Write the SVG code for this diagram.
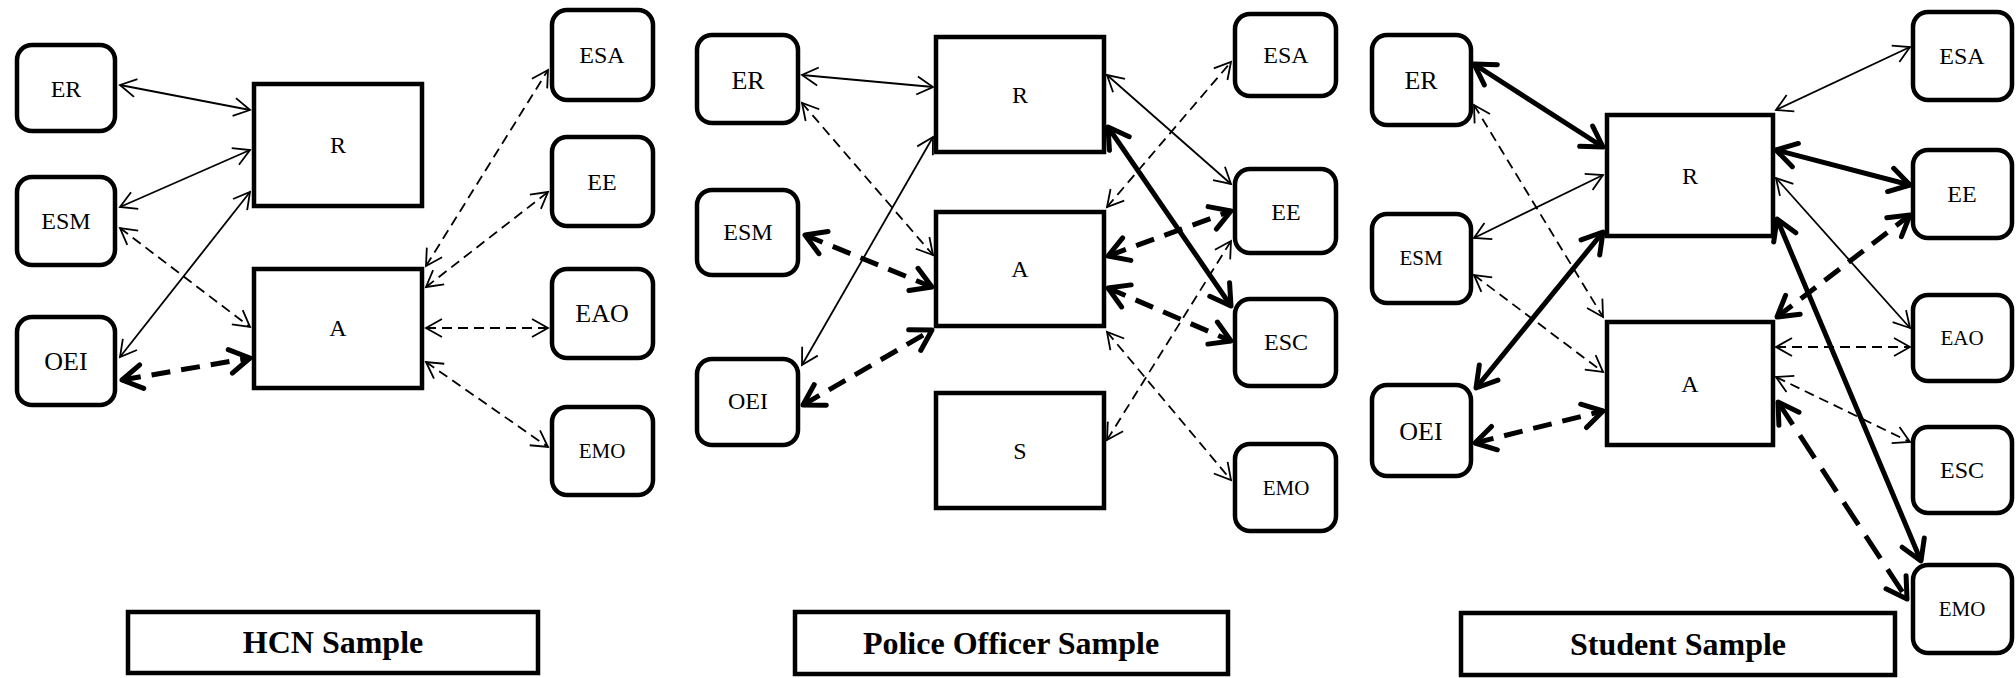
<svg xmlns="http://www.w3.org/2000/svg" width="2016" height="678" viewBox="0 0 2016 678">
<defs>
<style>
.bg{fill:#fff}
.n rect{fill:#fff;stroke:#000;stroke-width:4.5}
.n text{font-size:24px;text-anchor:middle;fill:#000}
.n text.s{font-size:21px}
.n text.l{font-size:26px}
.cap rect{fill:#fff;stroke:#000;stroke-width:4.5}
.cap text{font-size:32px;font-weight:bold;text-anchor:middle;fill:#000}
.c line{fill:none;stroke:#000}
.t{stroke-width:1.8;marker-start:url(#at);marker-end:url(#at)}
.k{stroke-width:5;marker-start:url(#ak);marker-end:url(#ak)}
.d{stroke-dasharray:10 6}
.kd{stroke-dasharray:19 11}
.kl{stroke-dasharray:27 13}
</style>
<marker id="at" viewBox="0 0 20 22" refX="17" refY="11" markerWidth="20" markerHeight="22" markerUnits="userSpaceOnUse" orient="auto-start-reverse">
<path d="M1,2 L17,11 L1,20" fill="none" stroke="#000" stroke-width="1.8"/>
</marker>
<marker id="ak" viewBox="0 0 28 30" refX="23" refY="15" markerWidth="28" markerHeight="30" markerUnits="userSpaceOnUse" orient="auto-start-reverse">
<path d="M3,3 L23,15 L3,27" fill="none" stroke="#000" stroke-width="5" stroke-linecap="round" stroke-linejoin="round"/>
</marker>
</defs>
<rect class="bg" x="0" y="0" width="2016" height="678"/>

<g id="connectors" class="c">
<!-- HCN -->
<line class="t" x1="120" y1="85" x2="250" y2="110"/>
<line class="t" x1="120" y1="207" x2="250" y2="150"/>
<line class="t" x1="120" y1="357" x2="250" y2="192"/>
<line class="t d" x1="120" y1="228" x2="250" y2="327"/>
<line class="k kd" x1="122" y1="380" x2="250" y2="358"/>
<line class="t d" x1="426" y1="266" x2="548" y2="70"/>
<line class="t d" x1="426" y1="287" x2="548" y2="192"/>
<line class="t d" x1="426" y1="328" x2="548" y2="328"/>
<line class="t d" x1="426" y1="362" x2="548" y2="447"/>
<!-- Police -->
<line class="t" x1="802" y1="75" x2="933" y2="87"/>
<line class="t d" x1="802" y1="103" x2="933" y2="255"/>
<line class="t" x1="802" y1="365" x2="933" y2="137"/>
<line class="k kd" x1="805" y1="235" x2="932" y2="287"/>
<line class="k kd" x1="803" y1="405" x2="932" y2="330"/>
<line class="t" x1="1107" y1="75" x2="1231" y2="184"/>
<line class="k" x1="1108" y1="127" x2="1231" y2="306"/>
<line class="t d" x1="1107" y1="207" x2="1231" y2="62"/>
<line class="k kd" x1="1108" y1="256" x2="1231" y2="211"/>
<line class="k kd" x1="1108" y1="288" x2="1231" y2="341"/>
<line class="t d" x1="1107" y1="332" x2="1231" y2="480"/>
<line class="t d" x1="1107" y1="440" x2="1231" y2="241"/>
<!-- Student -->
<line class="k" x1="1474" y1="64" x2="1603" y2="147"/>
<line class="t d" x1="1474" y1="105" x2="1603" y2="317"/>
<line class="t" x1="1474" y1="238" x2="1603" y2="175"/>
<line class="t d" x1="1474" y1="275" x2="1603" y2="372"/>
<line class="k" x1="1476" y1="388" x2="1603" y2="232"/>
<line class="k kd" x1="1475" y1="443" x2="1603" y2="411"/>
<line class="t" x1="1776" y1="110" x2="1910" y2="47"/>
<line class="k" x1="1776" y1="150" x2="1910" y2="185"/>
<line class="t" x1="1776" y1="178" x2="1910" y2="328"/>
<line class="k kd" x1="1777" y1="317" x2="1910" y2="215"/>
<line class="t d" x1="1776" y1="347" x2="1910" y2="347"/>
<line class="t d" x1="1776" y1="377" x2="1910" y2="442"/>
<line class="k kl" x1="1778" y1="402" x2="1907" y2="599"/>
<line class="k" x1="1777" y1="219" x2="1921" y2="561"/>
</g>

<g font-family="Liberation Serif">
<!-- HCN nodes -->
<g id="hcn-ER" class="n"><rect x="17" y="45" width="98" height="86" rx="15"/><text x="66" y="97">ER</text></g>
<g id="hcn-ESM" class="n"><rect x="17" y="177" width="98" height="88" rx="15"/><text x="66" y="229">ESM</text></g>
<g id="hcn-OEI" class="n"><rect x="17" y="317" width="98" height="88" rx="15"/><text class="l" x="66" y="370">OEI</text></g>
<g id="hcn-R" class="n"><rect x="254" y="84" width="168" height="122"/><text x="338" y="153">R</text></g>
<g id="hcn-A" class="n"><rect x="254" y="269" width="168" height="119"/><text x="338" y="336">A</text></g>
<g id="hcn-ESA" class="n"><rect x="552" y="10" width="101" height="90" rx="15"/><text x="602" y="63">ESA</text></g>
<g id="hcn-EE" class="n"><rect x="552" y="137" width="101" height="89" rx="15"/><text x="602" y="190">EE</text></g>
<g id="hcn-EAO" class="n"><rect x="552" y="269" width="101" height="89" rx="15"/><text class="l" x="602" y="322">EAO</text></g>
<g id="hcn-EMO" class="n"><rect x="552" y="407" width="101" height="88" rx="15"/><text class="s" x="602" y="458">EMO</text></g>
<g id="hcn-label" class="cap"><rect x="128" y="612" width="410" height="61"/><text x="333" y="653">HCN Sample</text></g>

<!-- Police nodes -->
<g id="pol-ER" class="n"><rect x="697" y="35" width="101" height="88" rx="15"/><text class="l" x="748" y="89">ER</text></g>
<g id="pol-ESM" class="n"><rect x="697" y="190" width="101" height="85" rx="15"/><text x="748" y="240">ESM</text></g>
<g id="pol-OEI" class="n"><rect x="697" y="359" width="101" height="86" rx="15"/><text x="748" y="409">OEI</text></g>
<g id="pol-R" class="n"><rect x="936" y="37" width="168" height="115"/><text x="1020" y="103">R</text></g>
<g id="pol-A" class="n"><rect x="936" y="212" width="168" height="114"/><text x="1020" y="277">A</text></g>
<g id="pol-S" class="n"><rect x="936" y="393" width="168" height="115"/><text x="1020" y="459">S</text></g>
<g id="pol-ESA" class="n"><rect x="1235" y="14" width="101" height="82" rx="15"/><text x="1286" y="63">ESA</text></g>
<g id="pol-EE" class="n"><rect x="1235" y="169" width="101" height="84" rx="15"/><text x="1286" y="220">EE</text></g>
<g id="pol-ESC" class="n"><rect x="1235" y="299" width="101" height="87" rx="15"/><text x="1286" y="350">ESC</text></g>
<g id="pol-EMO" class="n"><rect x="1235" y="444" width="101" height="87" rx="15"/><text class="s" x="1286" y="495">EMO</text></g>
<g id="pol-label" class="cap"><rect x="795" y="612" width="433" height="62"/><text x="1011" y="654">Police Officer Sample</text></g>

<!-- Student nodes -->
<g id="stu-ER" class="n"><rect x="1372" y="35" width="99" height="90" rx="15"/><text class="l" x="1421" y="89">ER</text></g>
<g id="stu-ESM" class="n"><rect x="1372" y="214" width="99" height="89" rx="15"/><text class="s" x="1421" y="265">ESM</text></g>
<g id="stu-OEI" class="n"><rect x="1372" y="385" width="99" height="91" rx="15"/><text class="l" x="1421" y="440">OEI</text></g>
<g id="stu-R" class="n"><rect x="1607" y="115" width="166" height="121"/><text x="1690" y="184">R</text></g>
<g id="stu-A" class="n"><rect x="1607" y="322" width="166" height="123"/><text x="1690" y="392">A</text></g>
<g id="stu-ESA" class="n"><rect x="1913" y="12" width="99" height="88" rx="15"/><text x="1962" y="64">ESA</text></g>
<g id="stu-EE" class="n"><rect x="1913" y="150" width="99" height="88" rx="15"/><text x="1962" y="202">EE</text></g>
<g id="stu-EAO" class="n"><rect x="1913" y="295" width="99" height="86" rx="15"/><text class="s" x="1962" y="345">EAO</text></g>
<g id="stu-ESC" class="n"><rect x="1913" y="427" width="99" height="86" rx="15"/><text x="1962" y="478">ESC</text></g>
<g id="stu-EMO" class="n"><rect x="1913" y="565" width="99" height="88" rx="15"/><text class="s" x="1962" y="616">EMO</text></g>
<g id="stu-label" class="cap"><rect x="1461" y="613" width="434" height="62"/><text x="1678" y="655">Student Sample</text></g>
</g>
</svg>
